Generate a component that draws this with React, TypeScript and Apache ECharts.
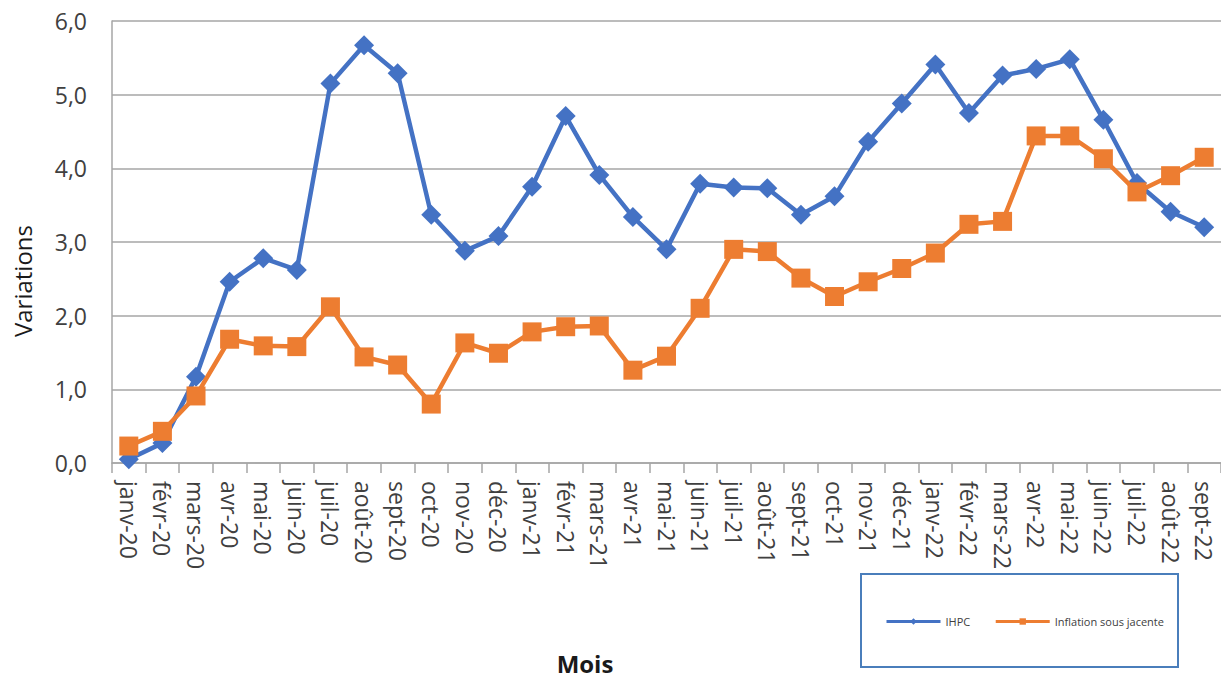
import React, { useEffect, useRef } from "react";
import * as echarts from "echarts";

const months = [
  "janv-20", "févr-20", "mars-20", "avr-20", "mai-20", "juin-20", "juil-20", "août-20", "sept-20", "oct-20", "nov-20", "déc-20",
  "janv-21", "févr-21", "mars-21", "avr-21", "mai-21", "juin-21", "juil-21", "août-21", "sept-21", "oct-21", "nov-21", "déc-21",
  "janv-22", "févr-22", "mars-22", "avr-22", "mai-22", "juin-22", "juil-22", "août-22", "sept-22",
];

const ihpc = [
  0.05, 0.27, 1.17, 2.46, 2.78, 2.62, 5.15, 5.67, 5.29, 3.37, 2.88, 3.08,
  3.75, 4.71, 3.91, 3.34, 2.9, 3.79, 3.74, 3.73, 3.37, 3.62, 4.36, 4.88,
  5.41, 4.75, 5.26, 5.35, 5.48, 4.66, 3.8, 3.41, 3.2,
];

const inflationSousJacente = [
  0.23, 0.43, 0.91, 1.68, 1.59, 1.58, 2.12, 1.44, 1.33, 0.8, 1.63, 1.49,
  1.78, 1.85, 1.86, 1.26, 1.45, 2.1, 2.9, 2.87, 2.51, 2.26, 2.46, 2.64,
  2.85, 3.24, 3.28, 4.44, 4.44, 4.13, 3.68, 3.9, 4.15,
];

const seriesNames = ["IHPC", "Inflation sous jacente"];
const yTitle = "Variations";
const xTitle = "Mois";

const FONT = "'Open Sans', 'Noto Sans', sans-serif";

export default function App() {
  const ref = useRef<HTMLDivElement>(null);

  useEffect(() => {
    if (!ref.current) return;
    const chart = echarts.init(ref.current, undefined, { renderer: "svg" });
    chart.setOption({
      animation: false,
      backgroundColor: "#ffffff",
      grid: { left: 112, right: 0, top: 21, bottom: 218, containLabel: false },
      xAxis: {
        type: "category",
        data: months,
        boundaryGap: true,
        axisLine: { show: true, lineStyle: { color: "#a6a6a6", width: 1.5 } },
        axisTick: { show: true, length: 10, lineStyle: { color: "#a6a6a6", width: 1.5 } },
        axisLabel: {
          rotate: -90,
          margin: 18,
          fontSize: 23,
          color: "#404040",
          fontFamily: FONT,
          interval: 0,
        },
        splitLine: { show: false },
      },
      yAxis: {
        type: "value",
        min: 0,
        max: 6,
        interval: 1,
        axisLine: { show: true, lineStyle: { color: "#a6a6a6", width: 1.5 } },
        axisTick: { show: false },
        axisLabel: {
          margin: 25,
          fontSize: 23,
          color: "#404040",
          fontFamily: FONT,
          formatter: (v: number) => v.toFixed(1).replace(".", ","),
        },
        splitLine: { show: true, lineStyle: { color: "#a6a6a6", width: 1.5 } },
      },
      legend: {
        left: 885,
        top: 616,
        itemWidth: 54,
        itemHeight: 8,
        itemGap: 24,
        padding: 0,
        textStyle: { fontSize: 11, color: "#404040", fontFamily: FONT },
        lineStyle: { width: 3 },
        data: seriesNames,
      },
      graphic: [
        {
          type: "rect",
          shape: { x: 861, y: 574, width: 317, height: 93 },
          style: { fill: "none", stroke: "#4a7ebb", lineWidth: 2 },
          z: 10,
        },
        {
          type: "text",
          x: 22,
          y: 281,
          rotation: Math.PI / 2,
          style: {
            text: yTitle,
            fontSize: 24,
            fontFamily: FONT,
            fill: "#1a1a1a",
            align: "center",
            verticalAlign: "middle",
          },
        },
        {
          type: "text",
          x: 585,
          y: 663,
          style: {
            text: xTitle,
            fontSize: 24,
            fontWeight: "bold",
            fontFamily: FONT,
            fill: "#1a1a1a",
            align: "center",
            verticalAlign: "middle",
          },
        },
      ],
      series: [
        {
          name: seriesNames[0],
          type: "line",
          data: ihpc,
          symbol: "diamond",
          symbolSize: 20,
          color: "#4472C4",
          lineStyle: { width: 4.5, color: "#4472C4" },
          itemStyle: { color: "#4472C4" },
          z: 2,
        },
        {
          name: seriesNames[1],
          type: "line",
          data: inflationSousJacente,
          symbol: "rect",
          symbolSize: 19,
          color: "#ED7D31",
          lineStyle: { width: 4.5, color: "#ED7D31" },
          itemStyle: { color: "#ED7D31" },
          z: 3,
        },
      ],
    });
    return () => chart.dispose();
  }, []);

  return (
    <div
      ref={ref}
      style={{ position: "fixed", left: 0, top: 0, width: 1221, height: 681, background: "#fff" }}
    />
  );
}
